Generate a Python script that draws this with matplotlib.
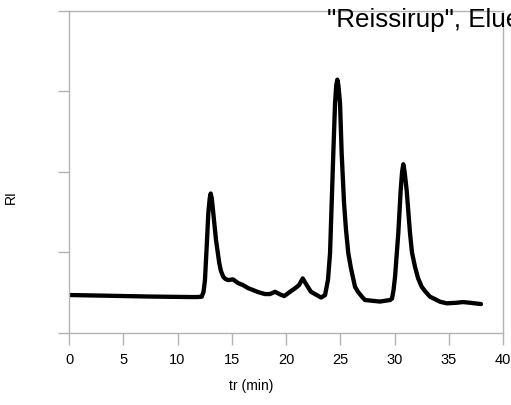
import numpy as np
import matplotlib
matplotlib.use('Agg')
import matplotlib.pyplot as plt

plt.rcParams['font.family'] = ['Liberation Sans', 'DejaVu Sans']

# retention time (min) and RI signal (arbitrary units)
tr = [0.0, 2.9, 7.5, 11.15, 11.8, 12.23, 12.40, 12.53, 12.69, 12.84, 12.97, 13.06, 13.16,
      13.30, 13.55, 13.85, 14.0, 14.22, 14.42, 14.65, 15.12, 15.58, 16.04, 16.50, 17.42,
      18.06, 18.53, 18.99, 19.45, 19.84, 20.37, 20.83, 21.20, 21.54, 21.91, 22.30, 22.83,
      23.23, 23.6, 23.87, 24.06, 24.21, 24.36, 24.52, 24.63, 24.73, 24.83, 24.98, 25.13,
      25.35, 25.53, 25.74, 25.99, 26.36, 26.64, 27.0, 27.28, 28.66, 29.59, 29.77, 29.91,
      30.05, 30.35, 30.57, 30.70, 30.81, 30.93, 31.12, 31.43, 31.61, 31.89, 32.17, 32.51,
      32.81, 33.27, 33.73, 34.19, 34.81, 35.73, 36.31, 36.96, 37.97]
ri = [0.471, 0.464, 0.452, 0.446, 0.446, 0.450, 0.51, 0.656, 1.069, 1.486, 1.67, 1.730, 1.67,
      1.486, 1.152, 0.867, 0.77, 0.697, 0.67, 0.656, 0.665, 0.619, 0.594, 0.557, 0.508,
      0.483, 0.483, 0.511, 0.479, 0.458, 0.511, 0.554, 0.594, 0.677, 0.594, 0.511, 0.471,
      0.440, 0.47, 0.66, 0.991, 1.610, 2.229, 2.848, 3.07, 3.142, 3.07, 2.848, 2.229,
      1.610, 1.28, 0.991, 0.80, 0.573, 0.51, 0.45, 0.409, 0.390, 0.409, 0.427, 0.53,
      0.697, 1.238, 1.771, 2.00, 2.093, 2.00, 1.771, 1.238, 1.0, 0.821, 0.68, 0.573,
      0.52, 0.450, 0.42, 0.388, 0.368, 0.375, 0.384, 0.375, 0.359]

xticks = [0, 5, 10, 15, 20, 25, 30, 35, 40]
yticks = [0, 1, 2, 3, 4]

grey = '#b3b3b3'

fig = plt.figure(figsize=(5.11, 4.05), dpi=100)
fig.set_facecolor('white')
ax = fig.add_axes([69/511, 1-333/405, 434/511, 322.5/405])

ax.plot(tr, ri, color='black', lw=3.1, solid_joinstyle='round', solid_capstyle='round')

ax.set_xlim(0, 40)
ax.set_ylim(0, 4)
ax.set_xticks(xticks)
ax.set_yticks(yticks)
ax.set_yticklabels([])
for s in ax.spines.values():
    s.set_color(grey)
    s.set_linewidth(1.0)
ax.tick_params(axis='x', direction='out', length=8.5, width=1.0, color=grey,
               labelsize=10.5, pad=6)
ax.tick_params(axis='y', direction='out', length=8, width=1.0, color=grey)

ax.set_xlabel('tr (min)', fontsize=10)
ax.xaxis.set_label_coords((251-69)/434, -(379-333)/322.5)
ax.set_ylabel('RI', fontsize=10)
ax.yaxis.set_label_coords(-(69-17.5)/434, (333-197)/322.5)

# title, cut off by the figure edge as in the original
fig.text(280/511, 1-(-7)/405, 'ppp', fontsize=18.7, fontweight='bold', ha='left', va='baseline')
fig.text(327/511, 1-27/405, '"Reissirup", Eluent: Wasser', fontsize=18.7, ha='left', va='baseline')

fig.savefig('out.png', dpi=100)
